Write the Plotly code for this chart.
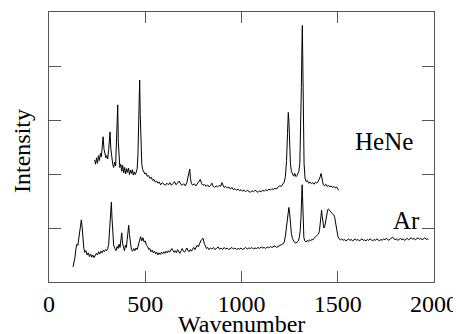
import plotly.graph_objects as go

# HeNe spectrum (upper trace)
hene_x = [237, 242, 247, 252, 257, 262, 267, 272, 276, 281, 286, 291, 296, 300, 305, 310, 314, 317, 321, 326,
          331, 336, 341, 346, 350, 354, 357, 360, 364, 368, 373, 378, 383, 388, 393, 398, 403, 408, 413, 418,
          423, 428, 433, 438, 443, 448, 453, 458, 462, 466, 469, 471, 474, 478, 482, 487, 492, 498, 504, 510,
          517, 524, 531, 538, 545, 552, 559, 566, 573, 580, 588, 596, 604, 612, 620, 628, 636, 644, 652, 660,
          668, 676, 684, 692, 700, 708, 716, 722, 727, 731, 735, 740, 747, 755, 763, 771, 779, 786, 793, 800,
          808, 816, 824, 832, 840, 846, 852, 860, 868, 876, 884, 892, 898, 904, 910, 918, 926, 934, 942, 950,
          958, 966, 974, 982, 990, 998, 1006, 1014, 1022, 1030, 1038, 1046, 1054, 1062, 1070, 1078, 1086, 1094,
          1102, 1110, 1118, 1126, 1134, 1142, 1150, 1158, 1166, 1174, 1182, 1190, 1198, 1206, 1214, 1222, 1228,
          1234, 1239, 1243, 1246, 1250, 1254, 1259, 1265, 1271, 1277, 1283, 1288, 1293, 1298, 1303, 1308, 1311,
          1314, 1316, 1318, 1321, 1325, 1330, 1336, 1342, 1349, 1356, 1363, 1370, 1377, 1384, 1391, 1398, 1404,
          1409, 1413, 1416, 1420, 1425, 1431, 1438, 1445, 1452, 1459, 1466, 1473, 1480, 1487, 1494, 1500, 1507]
hene_y = [2.26, 2.18, 2.30, 2.20, 2.34, 2.25, 2.38, 2.32, 2.48, 2.69, 2.45, 2.36, 2.30, 2.34, 2.28, 2.45, 2.62, 2.78, 2.48, 2.30,
          2.18, 2.12, 2.22, 2.15, 2.55, 2.90, 3.28, 2.60, 2.22, 2.12, 2.18, 2.05, 2.16, 2.02, 2.12, 2.00, 2.10, 2.03, 2.11, 1.99,
          2.07, 2.01, 2.08, 1.98, 2.04, 1.99, 2.03, 2.10, 2.35, 2.95, 3.55, 3.74, 3.10, 2.45, 2.18, 2.08, 2.05, 2.00, 2.02, 1.96,
          1.97, 1.92, 1.94, 1.88, 1.90, 1.85, 1.87, 1.83, 1.85, 1.80, 1.84, 1.81, 1.79, 1.83, 1.80, 1.84, 1.79, 1.82, 1.86, 1.80,
          1.83, 1.87, 1.81, 1.79, 1.82, 1.78, 1.84, 1.92, 2.02, 2.09, 1.92, 1.82, 1.79, 1.82, 1.78, 1.83, 1.86, 1.90, 1.82, 1.79,
          1.81, 1.77, 1.80, 1.76, 1.79, 1.83, 1.78, 1.75, 1.78, 1.76, 1.79, 1.77, 1.84, 1.79, 1.75, 1.77, 1.74, 1.76, 1.72, 1.75,
          1.71, 1.73, 1.70, 1.72, 1.69, 1.71, 1.68, 1.70, 1.67, 1.70, 1.68, 1.66, 1.69, 1.67, 1.70, 1.68, 1.66, 1.69,
          1.67, 1.70, 1.68, 1.71, 1.69, 1.72, 1.70, 1.73, 1.71, 1.74, 1.72, 1.76, 1.78, 1.77, 1.80, 1.85, 1.95,
          2.25, 2.75, 3.14, 3.00, 2.55, 2.20, 2.05, 2.00, 1.96, 2.01, 1.95, 1.97, 2.00, 2.05, 2.20, 2.80, 3.60,
          4.40, 4.75, 4.20, 3.10, 2.20, 1.92, 1.86, 1.88, 1.83, 1.85, 1.82, 1.84, 1.81, 1.85, 1.83, 1.86, 1.90,
          1.95, 2.01, 1.94, 1.85, 1.80, 1.78, 1.81, 1.77, 1.79, 1.76, 1.78, 1.75, 1.77, 1.74, 1.76, 1.72, 1.70]

# Ar spectrum (lower trace)
ar_x = [125, 130, 135, 140, 145, 150, 155, 160, 164, 168, 172, 176, 181, 186, 192, 198, 204, 210, 216, 222,
        228, 234, 240, 246, 252, 258, 264, 270, 276, 282, 288, 294, 300, 305, 310, 314, 318, 321, 324, 327,
        331, 336, 342, 348, 354, 359, 364, 369, 374, 378, 382, 387, 392, 397, 402, 406, 410, 414, 418, 423,
        428, 434, 440, 446, 452, 458, 464, 470, 476, 482, 488, 494, 500, 506, 512, 518, 524, 530, 536, 542,
        548, 554, 560, 566, 572, 578, 584, 590, 596, 602, 608, 614, 620, 626, 632, 638, 644, 650, 656, 662,
        668, 674, 680, 686, 692, 698, 704, 710, 716, 722, 728, 734, 740, 746, 752, 758, 764, 770, 776, 782,
        788, 794, 800, 806, 812, 818, 824, 830, 838, 846, 854, 862, 870, 878, 886, 894, 902, 910, 918, 926,
        934, 942, 950, 958, 966, 974, 982, 990, 998, 1006, 1014, 1022, 1030, 1038, 1046, 1054, 1062, 1070, 1078,
        1086, 1094, 1102, 1110, 1118, 1126, 1134, 1142, 1150, 1158, 1166, 1174, 1182, 1190, 1198, 1206, 1214,
        1222, 1228, 1234, 1239, 1243, 1246, 1250, 1254, 1259, 1265, 1271, 1277, 1283, 1289, 1295, 1300, 1305,
        1309, 1312, 1315, 1317, 1320, 1324, 1329, 1335, 1341, 1347, 1353, 1359, 1365, 1371, 1377, 1383, 1389,
        1395, 1400, 1405, 1409, 1413, 1416, 1419, 1423, 1428, 1432, 1436, 1440, 1444, 1448, 1452, 1456, 1460,
        1464, 1468, 1472, 1476, 1480, 1484, 1488, 1492, 1496, 1501, 1507, 1514, 1521, 1528, 1535, 1542, 1549,
        1556, 1563, 1570, 1577, 1584, 1591, 1598, 1605, 1612, 1619, 1626, 1633, 1640, 1647, 1654, 1661, 1668,
        1675, 1682, 1689, 1696, 1703, 1710, 1717, 1724, 1731, 1738, 1745, 1752, 1759, 1766, 1773, 1780, 1786,
        1792, 1798, 1805, 1812, 1819, 1826, 1833, 1840, 1847, 1854, 1861, 1868, 1875, 1882, 1889, 1896, 1903,
        1910, 1917, 1924, 1931, 1938, 1945, 1952, 1959, 1966, 1970]
ar_y = [0.28, 0.36, 0.46, 0.62, 0.70, 0.68, 0.82, 0.98, 1.10, 1.15, 1.02, 0.78, 0.62, 0.55, 0.58, 0.50, 0.54, 0.47, 0.52, 0.46,
        0.50, 0.45, 0.49, 0.53, 0.50, 0.56, 0.52, 0.57, 0.54, 0.59, 0.56, 0.60, 0.58, 0.62, 0.70, 0.88, 1.15, 1.35, 1.48, 1.20,
        0.85, 0.68, 0.62, 0.58, 0.66, 0.62, 0.70, 0.64, 0.80, 0.91, 0.72, 0.62, 0.58, 0.68, 0.64, 0.78, 0.92, 1.05, 0.88, 0.66,
        0.60, 0.57, 0.62, 0.58, 0.63, 0.60, 0.70, 0.78, 0.84, 0.76, 0.82, 0.74, 0.76, 0.68, 0.66, 0.60, 0.62, 0.56, 0.59, 0.54,
        0.57, 0.52, 0.55, 0.50, 0.54, 0.51, 0.55, 0.52, 0.56, 0.53, 0.57, 0.54, 0.58, 0.55, 0.60, 0.62, 0.58, 0.55, 0.58, 0.54,
        0.60, 0.56, 0.53, 0.58, 0.62, 0.57, 0.55, 0.59, 0.63, 0.58, 0.56, 0.60, 0.57, 0.61, 0.64, 0.60, 0.66, 0.68, 0.65, 0.72,
        0.76, 0.79, 0.81, 0.72, 0.66, 0.62, 0.64, 0.60, 0.63, 0.61, 0.64, 0.60, 0.62, 0.65, 0.61, 0.63, 0.60, 0.64, 0.61, 0.63,
        0.60, 0.62, 0.64, 0.61, 0.63, 0.60, 0.62, 0.61, 0.63, 0.60, 0.62, 0.64, 0.61, 0.63, 0.62, 0.64, 0.61, 0.63, 0.62,
        0.64, 0.62, 0.65, 0.63, 0.64, 0.62, 0.65, 0.63, 0.66, 0.64, 0.65, 0.67, 0.64, 0.66, 0.67, 0.69, 0.70,
        0.74, 0.85, 1.05, 1.25, 1.36, 1.38, 1.28, 1.08, 0.90, 0.80, 0.75, 0.73, 0.72, 0.74, 0.76, 0.82, 0.95,
        1.20, 1.55, 1.80, 1.60, 1.15, 0.82, 0.76, 0.74, 0.77, 0.75, 0.78, 0.76, 0.79, 0.78, 0.81, 0.83, 0.85,
        0.87, 0.89, 0.95, 1.10, 1.28, 1.33, 1.22, 1.05, 1.00, 1.02, 1.12, 1.22, 1.30, 1.34, 1.35, 1.34, 1.31,
        1.30, 1.28, 1.27, 1.25, 1.24, 1.20, 1.12, 1.02, 0.92, 0.84, 0.80, 0.78, 0.80, 0.77, 0.79, 0.76, 0.78,
        0.80, 0.77, 0.79, 0.76, 0.78, 0.80, 0.77, 0.79, 0.76, 0.78, 0.80, 0.77, 0.78, 0.76, 0.79, 0.77, 0.80,
        0.78, 0.76, 0.79, 0.77, 0.80, 0.78, 0.76, 0.79, 0.77, 0.80, 0.78, 0.81, 0.79, 0.77, 0.80, 0.82, 0.83,
        0.80, 0.78, 0.80, 0.77, 0.79, 0.81, 0.78, 0.80, 0.77, 0.79, 0.81, 0.78, 0.80, 0.82, 0.79, 0.81, 0.78,
        0.80, 0.82, 0.79, 0.81, 0.78, 0.80, 0.82, 0.79, 0.80, 0.78]

x_ticks = [0, 500, 1000, 1500, 2000]
y_ticks = [0, 1, 2, 3, 4, 5]
labels = ["HeNe", "Ar"]
label_x = [1740, 1855]
label_y = [2.61, 1.13]

font_family = "Liberation Serif, Times New Roman, serif"

fig = go.Figure()
fig.add_trace(go.Scatter(x=hene_x, y=hene_y, mode="lines",
                         line=dict(color="black", width=1), showlegend=False))
fig.add_trace(go.Scatter(x=ar_x, y=ar_y, mode="lines",
                         line=dict(color="black", width=1), showlegend=False))

for t, lx, ly in zip(labels, label_x, label_y):
    fig.add_annotation(x=lx, y=ly, text=t, showarrow=False,
                       font=dict(family=font_family, size=25, color="black"))

# axis titles placed as paper annotations
fig.add_annotation(xref="paper", yref="paper", x=0.5, y=0, yshift=-42,
                   text="Wavenumber", showarrow=False, yanchor="middle",
                   font=dict(family=font_family, size=24, color="black"))
fig.add_annotation(xref="paper", yref="paper", x=0, y=0.5, xshift=-27, yshift=-4,
                   text="Intensity", showarrow=False, textangle=-90, xanchor="center",
                   font=dict(family=font_family, size=24, color="black"))

fig.update_xaxes(range=[0, 2000], tickvals=x_ticks, ticks="inside", ticklen=11,
                 tickcolor="#555", showline=True, linecolor="#555", linewidth=1,
                 mirror="ticks", showgrid=False, zeroline=False, automargin=False,
                 tickfont=dict(family=font_family, size=24, color="black"))
fig.update_yaxes(range=[0, 5], tickvals=y_ticks, ticks="inside", ticklen=12,
                 tickcolor="#555", showline=True, linecolor="#555", linewidth=1,
                 mirror="ticks", showgrid=False, zeroline=False, showticklabels=False,
                 automargin=False)

# the page body adds an 8 px offset, so the figure is 8 px smaller on each axis
fig.update_layout(width=453, height=326, margin=dict(l=41, r=27, t=4, b=52),
                  plot_bgcolor="white", paper_bgcolor="white")

fig.write_html("out.html")
